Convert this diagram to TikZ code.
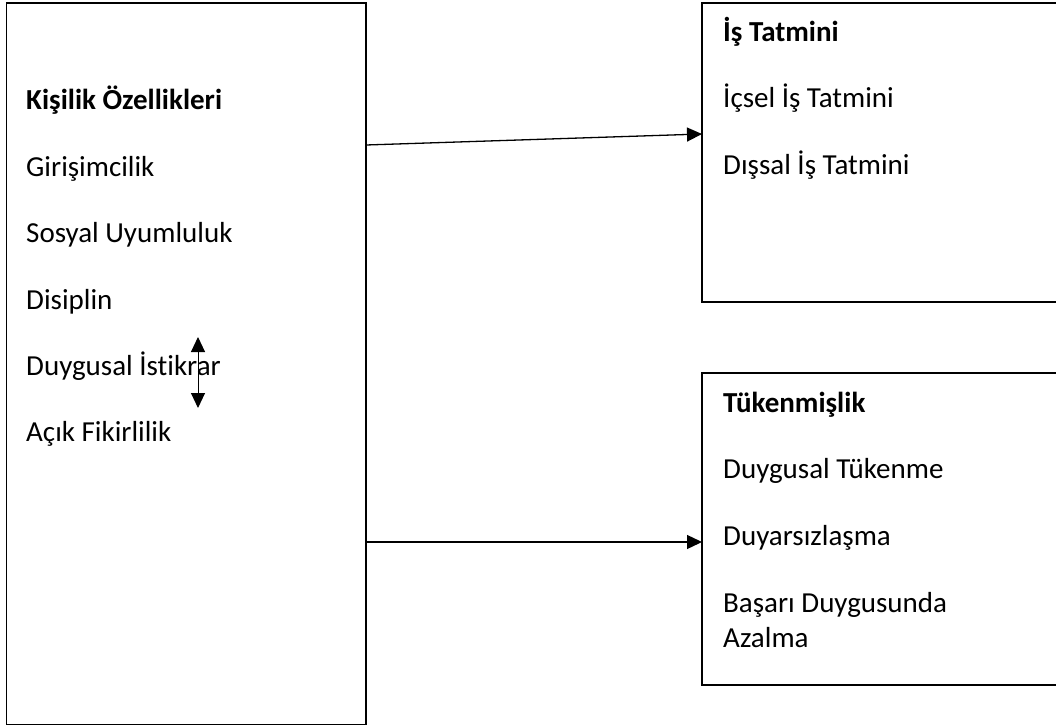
\documentclass[tikz,border=0pt]{standalone}
\usepackage{fontspec}
\setmainfont{Carlito}[Ligatures=NoCommon]
\usetikzlibrary{arrows.meta}

\tikzset{
  box/.style={draw,line width=1.4pt,rectangle,outer sep=0pt,inner sep=0pt},
  item/.style={anchor=base west,inner sep=0pt,font=\fontsize{29}{35}\selectfont},
  head/.style={item,font=\fontsize{29}{35}\selectfont\bfseries},
  link/.style={line width=1.3pt,-{Triangle[length=15pt,width=14pt]}}
}

\begin{document}
\begin{tikzpicture}[x=1pt,y=-1pt]
  \useasboundingbox (0,0) rectangle (1056,727);
  \clip (0,0) rectangle (1056,727);
  % boxes
  \node[box,minimum width=359.5pt,minimum height=721.5pt] (kisilik) at (186.25,363.75) {};
  \node[box,minimum width=370pt,minimum height=299pt] (tatmin) at (887,152.5) {};
  \node[box,minimum width=370pt,minimum height=312pt] (tuken) at (887,529) {};
  % left column
  \node[head] (k0) at (26,110) {Kişilik Özellikleri};
  \node[item] (k1) at (26,177) {Girişimcilik};
  \node[item] (k2) at (26,243) {Sosyal Uyumluluk};
  \node[item] (k3) at (26,309) {Disiplin};
  \node[item] (k4) at (26,375) {Duygusal İstikrar};
  \node[item] (k5) at (26,441) {Açık Fikirlilik};
  % right column
  \node[head] (t0) at (723,42) {İş Tatmini};
  \node[item] (t1) at (723,108) {İçsel İş Tatmini};
  \node[item] (t2) at (723,175) {Dışsal İş Tatmini};
  \node[head] (b0) at (723,412) {Tükenmişlik};
  \node[item] (b1) at (723,478) {Duygusal Tükenme};
  \node[item] (b2) at (723,545) {Duyarsızlaşma};
  \node[item,align=left] (b3) at (723,647) {Başarı Duygusunda\\Azalma};
  % arrows
  \draw[link] (kisilik.east |- 0,145) -- (tatmin.west |- 0,134);
  \draw[link] (kisilik.east |- 0,542) -- (tuken.west |- 0,542);
  \coordinate (up) at (198,337);
  \coordinate (dn) at (198,408);
  \draw[line width=1pt,{Triangle[length=15pt,width=14pt]}-{Triangle[length=15pt,width=14pt]}] (up) -- (dn);
\end{tikzpicture}
\end{document}
